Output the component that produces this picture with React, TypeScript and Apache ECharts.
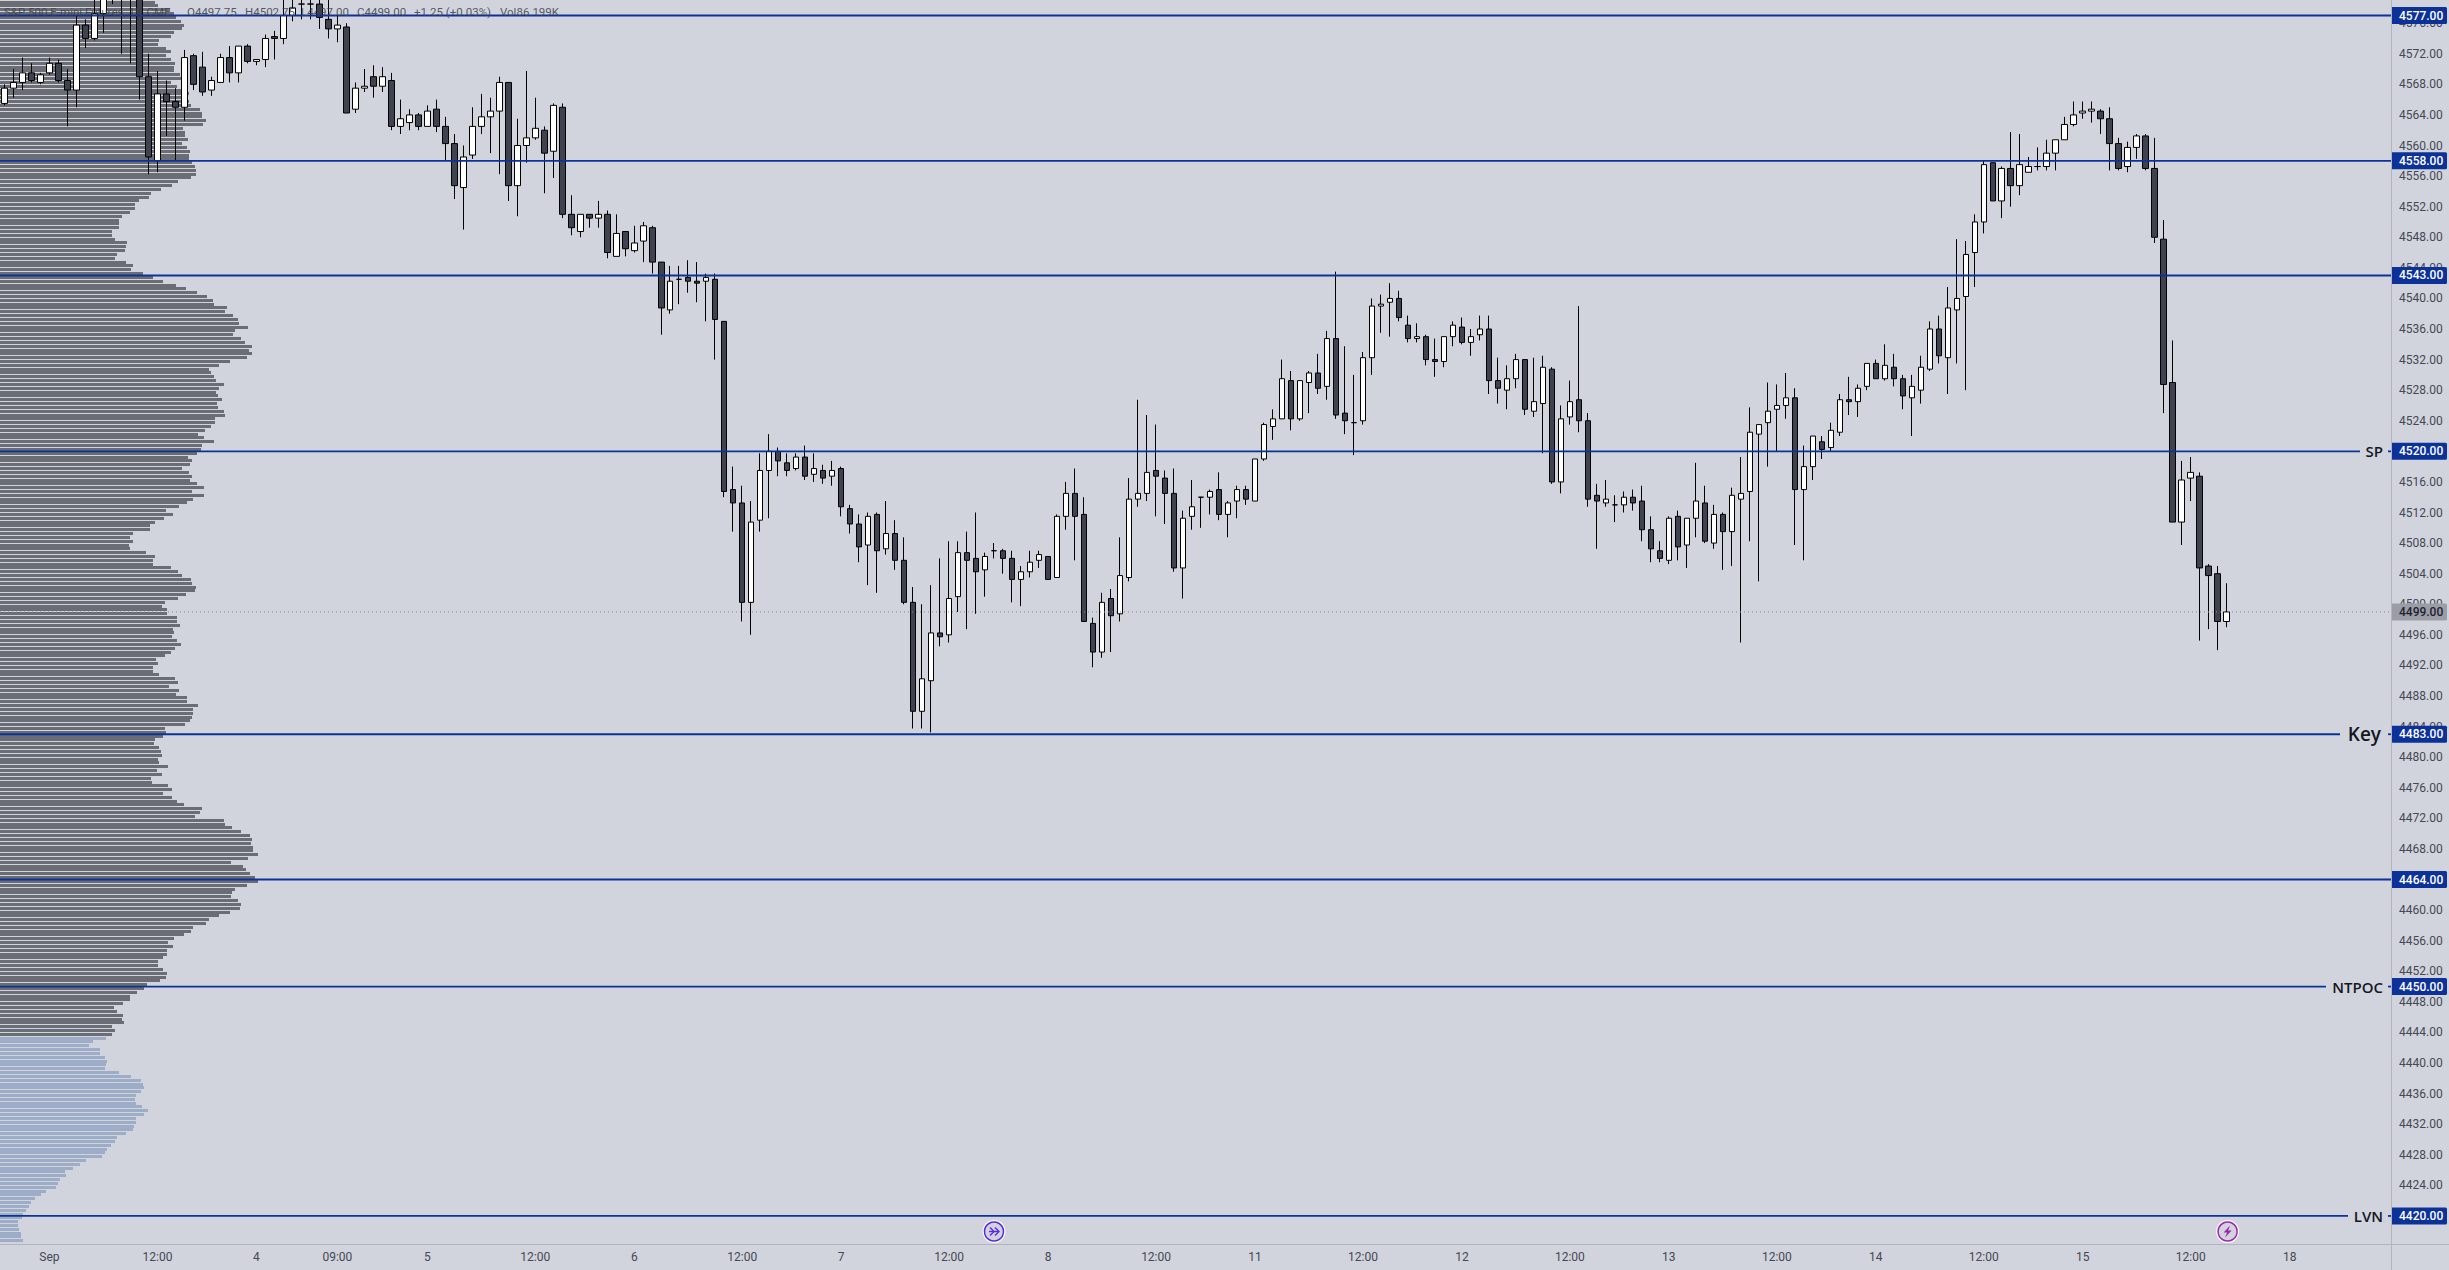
import React, { useEffect, useRef } from "react";
import * as echarts from "echarts";

// Candles as [open, close, low, high]
const candlesA: number[][] = [
  [4565.5,4567.5,4565.25,4568],[4567.5,4568.25,4566.25,4570],[4568.25,4569.5,4567.25,4571.5],[4569.5,4568.5,4568.25,4570.75],
  [4568.25,4569.25,4568,4569.5],[4569.5,4570.75,4569.25,4571.5],[4570.75,4568.5,4568.25,4571.25],[4568.5,4567.25,4562.5,4570],
  [4567.25,4575.75,4565,4577],[4575.75,4574,4572.75,4576.5],[4574,4577.25,4573.75,4580],[4577.25,4580,4574.75,4582],
  [4581,4583,4578.5,4585],[4584,4581,4572,4586],[4583,4580,4570.75,4585],[4582,4569,4566,4584],
  [4569,4558.5,4556.25,4572],[4558,4566.75,4556.5,4569.75],[4566.75,4565.75,4561.25,4568.5],[4565.75,4565,4558,4567.5],
  [4565,4571.5,4563.25,4572.5],[4571.75,4568,4567.25,4572],[4570.25,4567,4566.5,4572.25],[4567.25,4568.5,4566.5,4569],
  [4568.25,4571.5,4568.25,4572],[4571.5,4569.5,4568.25,4573],[4569.5,4573,4568.25,4573],[4573,4571,4570.75,4573.25],
  [4571,4571.25,4570.5,4571.25],[4571.25,4574,4570.25,4574.5],[4574.25,4574,4571.25,4575],[4574,4577,4573.25,4579.5],
  [4577,4578,4576.25,4580],[4578.5,4578.5,4576.5,4580],[4578.5,4578.5,4576.5,4580],[4578.5,4576.75,4575.25,4580],
  [4576.5,4575.25,4574,4580],[4575.25,4575.75,4573.5,4577],[4575.5,4564.25,4564.25,4576],[4564.75,4567.5,4564.25,4568.25],
  [4567.5,4567.75,4567,4570],[4569,4567.75,4566.25,4570.5],[4567.75,4569,4567,4570.25],[4568.5,4562.5,4562,4569.5],
  [4562.5,4563.5,4561.5,4566],[4563,4564,4562,4564.75],[4564,4562.5,4562,4564.25],[4562.5,4564.5,4562.5,4565.25],
  [4564.75,4562.5,4561.75,4566],[4562.5,4560.25,4558,4563.75],[4560.25,4554.75,4553,4561.5],[4554.5,4558.5,4549,4560],
  [4558.75,4562.5,4558.25,4565],[4562.5,4563.75,4561.5,4566.75],[4563.75,4564.5,4559,4566.25],[4564.5,4568.25,4556.25,4569],
  [4568.25,4554.75,4552.75,4568.25],[4554.75,4560,4550.75,4563.5],[4560,4561,4557.75,4569.75],[4561,4562.25,4560.75,4566.25],
  [4562,4559,4553.75,4562.5],[4559.25,4565.25,4555.75,4565.5],[4565,4551,4550.5,4565.5],[4551,4549.25,4548.25,4553.5],
  [4548.75,4551,4548,4551],[4551,4550.5,4549.25,4551],[4550.5,4551,4549.25,4552.75],[4551,4546,4545.25,4551.5],
];
const candlesB: number[][] = [
  [4545.5,4548.5,4545.5,4551],[4548.75,4546.5,4545.5,4548.75],[4546.25,4547.25,4546,4549.5],[4547.5,4549.5,4544.75,4550],
  [4549.25,4544.75,4543.25,4549.5],[4544.75,4538.75,4535.25,4544.75],[4538.5,4542.25,4538,4544.25],[4542.5,4542.5,4539.25,4544.25],
  [4542.75,4542.25,4540.75,4545],[4542.25,4542,4539.5,4544.75],[4542.25,4542.75,4537,4543.25],[4542.5,4537.25,4532,4543.25],
  [4537,4514.75,4514,4537],[4515,4513.25,4509.5,4518],[4513.25,4500.25,4497.75,4515.5],[4500.25,4510.75,4496,4513.5],
  [4511,4517.5,4509.5,4519.75],[4517.5,4520,4511.25,4522.25],[4520,4518.75,4516.75,4520.5],[4518.5,4517.5,4516.75,4519.75],
  [4517.75,4519.25,4517.5,4519.75],[4519.25,4516.75,4516.25,4520.75],[4517,4517.75,4516,4519.75],[4517.5,4516.5,4515.75,4518.25],
  [4516.75,4517.5,4515.5,4518.75],[4517.75,4512.75,4511.5,4518],[4512.5,4510.5,4509.25,4513],[4510.5,4507.5,4505.5,4511.75],
  [4507.75,4511.5,4502.5,4512],[4511.75,4507,4501.5,4512],[4507.25,4509.25,4506.5,4513.5],[4509.25,4505.75,4504.5,4511],
  [4505.75,4500.25,4500,4508.75],[4500.25,4486,4483.75,4502.25],[4486,4490.25,4483.75,4500],[4490,4496.25,4483.25,4502.5],
  [4496.25,4495.75,4494.5,4506],[4496,4500.75,4495,4508.25],[4501,4506.75,4499,4508.25],[4506.75,4505.75,4496.75,4509.5],
  [4506,4504.25,4498.75,4512],[4504.5,4506.25,4501,4506.75],[4507,4507,4506,4508],[4507,4506,4504,4507.25],
  [4506,4503.25,4500.25,4507],[4503.25,4504.25,4499.75,4505],[4504.25,4505.5,4503.5,4507],[4505.75,4506.5,4504.75,4507],
  [4506.25,4503.25,4503.25,4506.25],[4503.5,4511.5,4503.5,4511.75],[4511.5,4514.5,4509.75,4516],[4514.5,4511.5,4505.75,4517.75],
  [4511.75,4497.75,4497.75,4514],[4497.5,4493.75,4491.75,4498.25],[4493.75,4500.25,4493,4501.5],[4500.75,4498.5,4493.75,4502],
  [4498.75,4503.75,4497.75,4508.75],[4503.5,4513.75,4503,4516.5],[4513.75,4514.5,4512.75,4526.75],[4514.5,4517.25,4513.5,4524.75],
  [4517.5,4516.75,4511.5,4523.5],[4516.5,4514.5,4510.5,4517.5],[4514.5,4504.75,4504.25,4517.75],[4504.75,4511.25,4500.75,4512.25],
  [4511.5,4512.75,4509.75,4516.25],[4514,4514,4510,4514],[4514,4514.75,4511.75,4515],[4515,4511.75,4511,4517.25],
];
const candlesC: number[][] = [
  [4511.75,4513.25,4508.75,4513.5],[4513.5,4515,4511.25,4515.5],[4515,4513.75,4513,4515.5],[4513.5,4519,4513.5,4519],
  [4519,4523.5,4518.75,4523.75],[4523.25,4524.25,4521.5,4525.5],[4524.25,4529.5,4524.25,4532],[4529.25,4524.25,4522.75,4530.5],
  [4524.25,4529.25,4524,4529.25],[4529,4530.25,4525,4530.5],[4530.25,4528.25,4527.5,4532.75],[4528.5,4534.75,4526.75,4535.75],
  [4534.75,4524.75,4524.25,4543.5],[4525,4524,4522.25,4533.75],[4523.75,4523.75,4519.5,4530],[4524,4532.25,4523.5,4533],
  [4532.25,4539,4530,4540],[4539,4539.25,4535.5,4540.5],[4539.5,4540,4535,4542],[4540,4537.5,4537,4541],
  [4536.5,4534.75,4534.25,4537.75],[4534.75,4535,4534.25,4536.75],[4535,4532,4531.25,4535.25],[4532,4531.75,4529.75,4534.75],
  [4531.75,4535,4531,4535],[4535,4536.5,4533.75,4537],[4536.25,4534.25,4534,4537.5],[4534.25,4535,4532.5,4536],
  [4535.25,4536,4534.5,4537.75],[4536,4529.25,4527.5,4537.75],[4529.25,4528.25,4526.25,4532.25],[4528,4529.5,4525.5,4531.25],
  [4529.5,4532,4528.25,4532.75],[4532,4525.5,4524.75,4532],[4525.25,4526.5,4524.5,4532.25],[4526.25,4531,4519.75,4532.5],
  [4530.75,4516,4515.75,4531],[4516,4524.25,4514.5,4526],[4524.5,4526.5,4523.5,4529.25],[4526.75,4524,4522.5,4539],
  [4524,4513.75,4512.75,4525],[4514.25,4513.5,4507.25,4515.75],[4513.25,4513.75,4512.75,4516.25],[4513,4513,4510.75,4514.25],
  [4513,4514,4512,4514.75],[4514,4513.25,4512.25,4515],[4513.5,4509.75,4508.25,4515.5],[4509.75,4507.25,4505.5,4511.5],
  [4507,4506,4505.5,4508.25],[4505.75,4511.25,4505.25,4511.5],[4511.5,4507.5,4505.75,4512.25],[4507.75,4511.25,4504.75,4511.25],
  [4511.25,4513.5,4508.75,4518.5],[4513.25,4508.25,4508,4515.5],[4508,4511.75,4507.25,4513],[4511.75,4509.5,4504.5,4512],
  [4509.5,4514.25,4505,4515.25],[4513.75,4514.5,4495,4519.25],[4514.75,4522.5,4508.25,4525.75],[4522.25,4523.5,4503,4523.5],
  [4523.75,4525.25,4518,4529],[4525.5,4526,4520,4528.75],[4526,4527,4524.25,4530.25],[4527,4515,4507.75,4528.25],
  [4515,4518,4505.75,4520.75],[4518,4522,4516.25,4522],
];
const candlesD: number[][] = [
  [4521.25,4520.25,4519,4522],[4520.5,4522.75,4520,4523.75],[4522.5,4526.75,4522,4527.5],[4526.75,4526.5,4524.75,4529.75],
  [4526.5,4528.25,4524.5,4528.75],[4528.5,4531.5,4528,4531.5],[4531.5,4529.5,4529.5,4532],[4529.5,4531.25,4529.25,4534],
  [4531,4529.5,4528.5,4532.75],[4529.5,4527.25,4525.5,4530],[4527,4528.5,4522,4530],[4528,4531,4526.25,4532.5],
  [4530.75,4536,4530.5,4537],[4536,4532.5,4531.5,4537.75],[4532.25,4538.75,4527.5,4541.5],[4538.5,4540,4531.5,4547.75],
  [4540.25,4545.75,4528,4547.5],[4546,4550,4541.5,4551],[4550,4557.5,4548.5,4558],[4557.75,4552.75,4552.75,4557.75],
  [4552.75,4557,4550.5,4557.25],[4557,4554.75,4552,4561.75],[4554.75,4557.5,4553.5,4561.5],[4556.5,4557.25,4556.5,4558.5],
  [4557.25,4557.25,4556.75,4559.75],[4557.25,4559,4556.75,4560.75],[4559,4560.75,4556.75,4560.75],[4560.75,4562.75,4560.75,4563.75],
  [4562.75,4564,4562.5,4565.75],[4564.25,4564.5,4563.5,4565.75],[4564.5,4564.75,4563,4565.75],[4564.5,4563.5,4561.5,4564.75],
  [4563.5,4560.25,4556.75,4565],[4560.25,4557,4556.75,4561],[4557.25,4559.75,4556.5,4560.5],[4559.75,4561.25,4558.25,4561.5],
  [4561.25,4557,4556.75,4561.5],[4557,4548,4547.25,4561],[4547.75,4528.75,4525,4550.25],[4529,4510.75,4510.75,4534.5],
  [4510.75,4516.25,4507.75,4518.75],[4516.5,4517.25,4513.5,4519.25],[4516.75,4504.75,4495.25,4517.25],[4505,4503.75,4496.75,4505.25],
  [4504,4497.75,4494,4505],[4497.75,4499,4497,4502.75],
];

// Volume profile, row widths, one row per half point, top to bottom
const profileTopStart = 4578.75;
const profileTop = [155,158,170,174,176,181,184,182,174,171,159,158,166,171,166,171,175,174,174,180,186,171,177,183,189,183,189,191,200,202,202,206,203,183,185,185,188,182,187,190,189,189,192,195,196,196,191,178,172,161,151,149,139,135,135,130,122,119,119,119,112,112,115,127,126,125,117,115,126,133,131,143,153,163,176,186,197,207,213,214,227];
const profileMidStart = 4538.25;
const profileMid = [225,233,238,239,248,235,233,241,245,252,249,252,247,230,219,209,211,214,216,224,219,216,218,222,217,218,224,225,215,215,211,205,198,204,214,202,201,197,188,192,190,182,189,192,190,197,204,192,204,193,187,179,166,173,164,155,150,150,133,130,133,129,130,146,155,153,153,171,178,182,191,192,196,195,186,178,165,162,167,167,177,177,180,173,174,172,177,181,175,171,165,156,158,153,153,159,175,178,169,179,176,187,187,198,193];
const profileLowStart = 4485.75;
const profileLow = [193,192,190,185,165,166,163,155,154,159,161,162,158,159,168,157,162,151,152,168,172,163,172,177,184,202,200,195,224,225,232,241,250,252,251,253,253,258,248,231,243,246,250,255,258,247,235,232,231,238,241,240,230,219,209,206,193,191,184,174,168,173,167,167,163,158,158,163,167,166,160,147,144,137,130,130,123,114,117,123,122,124,112,115,112];
const profileBlueStart = 4443.25;
const profileBlue = [106,93,89,100,100,105,107,106,105,119,131,141,143,144,141,136,135,136,142,148,144,136,136,134,133,126,117,115,111,107,105,102,86,80,73,65,66,60,58,56,46,41,35,31,29,26,23,22,18,18,19,21,21,23];

// Horizontal levels and their side labels
const levelPrices = [4577, 4558, 4543, 4520, 4483, 4464, 4450, 4420];
const levelLabels = ["", "", "", "SP", "Key", "", "NTPOC", "LVN"];
const lastPrice = [4499];

// Axes
const priceTicks = [4420,4424,4428,4432,4436,4440,4444,4448,4452,4456,4460,4464,4468,4472,4476,4480,4484,4488,4492,4496,4500,4504,4508,4512,4516,4520,4524,4528,4532,4536,4540,4544,4548,4552,4556,4560,4564,4568,4572,4576];
const timeTickIndex = [5,17,28,37,47,59,70,82,93,105,116,128,139,151,162,174,185,197,208,220,231,243,254];
const timeTickLabels = ["Sep","12:00","4","09:00","5","12:00","6","12:00","7","12:00","8","12:00","11","12:00","12","12:00","13","12:00","14","12:00","15","12:00","18"];

// Header legend
const legendTexts = ["S&P 500 E-mini Futures, 1h, CME","O4497.75","H4502.75","L4497.00","C4499.00","+1.25 (+0.03%)","Vol86.199K"];
const legendOffsets = [4,187,245,301,357,414,500];

const PLOT_W = 2391;
const PLOT_H = 1244;
const BAND = 9;
const SLOTS = 266;
const PRICE_MAX = 4579.03;
const PRICE_MIN = 4416.33;
const BG = "#d1d4dc";
const LEVEL = "#0c3299";
const LEVEL_W = 1.8;
const AXIS_LINE = "#b2b5be";
const AXIS_TEXT = "#454854";
const FONT = "Roboto, sans-serif";
const LABEL_STYLE: Record<string, { lineEnd: number; size: number; right: number }> = {
  SP: { lineEnd: 2360, size: 15, right: 2383 },
  Key: { lineEnd: 2340, size: 19, right: 2381 },
  NTPOC: { lineEnd: 2326, size: 15, right: 2383 },
  LVN: { lineEnd: 2348, size: 15, right: 2383 },
};

function profileSeries(rows: number[][], color: string) {
  return {
    type: "custom",
    xAxisIndex: 1,
    yAxisIndex: 1,
    z: 1,
    silent: true,
    data: rows,
    encode: { x: 0, y: 1 },
    renderItem: (_p: any, api: any) => {
      const end = api.coord([api.value(0), api.value(1)]);
      const start = api.coord([0, api.value(1)]);
      return {
        type: "rect",
        shape: { x: start[0], y: Math.round(end[1] - 1.5), width: end[0] - start[0], height: 3 },
        style: { fill: color },
      };
    },
  };
}

function bins(start: number, widths: number[]) {
  return widths.map((w, i) => [w, start - i * 0.5]);
}

function badge(y: number, text: string, fill: string, color: string) {
  return [
    { type: "rect", shape: { x: PLOT_W, y: y - 8.5, width: 56, height: 17, r: 1.5 }, style: { fill } },
    {
      type: "text",
      style: {
        text, x: PLOT_W + 8, y, fill: color, fontFamily: FONT, fontSize: 12, fontWeight: 500,
        align: "left", verticalAlign: "middle",
      },
    },
  ];
}

export default function App() {
  const ref = useRef<HTMLDivElement>(null);
  useEffect(() => {
    document.body.style.margin = "0";
    const chart = echarts.init(ref.current!, null, { renderer: "svg" });
    const candles = [...candlesA, ...candlesB, ...candlesC, ...candlesD];
    const categories = Array.from({ length: SLOTS }, (_, i) => {
      const k = timeTickIndex.indexOf(i);
      return k >= 0 ? timeTickLabels[k] : "";
    });
    chart.setOption({
      animation: false,
      backgroundColor: BG,
      grid: [
        { left: -0.9, top: 0, width: BAND * SLOTS, height: PLOT_H },
        { left: 0, top: 0, width: PLOT_W, height: PLOT_H },
      ],
      xAxis: [
        {
          type: "category", gridIndex: 0, data: categories,
          axisLine: { show: false }, axisTick: { show: false }, splitLine: { show: false },
          axisLabel: { interval: 0, margin: 7, fontFamily: FONT, fontSize: 12, color: AXIS_TEXT },
        },
        { type: "value", gridIndex: 1, min: 0, max: PLOT_W, show: false },
      ],
      yAxis: [
        { type: "value", gridIndex: 0, min: PRICE_MIN, max: PRICE_MAX, show: false },
        {
          type: "value", gridIndex: 1, min: PRICE_MIN, max: PRICE_MAX, position: "right", z: 0,
          axisLine: { show: false }, axisTick: { show: false }, splitLine: { show: false },
          axisLabel: {
            customValues: priceTicks, margin: 8, fontFamily: FONT, fontSize: 12, color: AXIS_TEXT,
            formatter: (v: number) => v.toFixed(2),
          },
        },
      ],
      series: [
        profileSeries(bins(profileTopStart, profileTop), "#6b6d74"),
        profileSeries(bins(profileMidStart, profileMid), "#6b6d74"),
        profileSeries(bins(profileLowStart, profileLow), "#6b6d74"),
        profileSeries(bins(profileBlueStart, profileBlue), "#9dadc7"),
        {
          type: "candlestick", xAxisIndex: 0, yAxisIndex: 0, z: 2, clip: true, silent: true,
          barWidth: 6,
          data: candles,
          itemStyle: { color: "#ffffff", color0: "#3f424f", borderColor: "#000000", borderColor0: "#000000", borderColorDoji: "#000000", borderWidth: 1 },
        },
        {
          type: "custom", xAxisIndex: 1, yAxisIndex: 1, z: 3, silent: true,
          data: lastPrice.map((p) => [0, p]), encode: { x: 0, y: 1 },
          renderItem: (_p: any, api: any) => {
            const a = api.coord([0, api.value(1)]);
            const b = api.coord([PLOT_W, api.value(1)]);
            return {
              type: "group",
              children: [
                { type: "line", shape: { x1: a[0], y1: a[1], x2: b[0], y2: b[1] }, style: { stroke: "#8b8e97", lineWidth: 1, lineDash: [1, 3] } },
                ...badge(a[1], api.value(1).toFixed(2), "#9a9da6", "#1f2230"),
              ],
            };
          },
        },
        {
          type: "custom", xAxisIndex: 1, yAxisIndex: 1, z: 4, silent: true,
          data: levelPrices.map((p) => [0, p]), encode: { x: 0, y: 1 },
          renderItem: (params: any, api: any) => {
            const a = api.coord([0, api.value(1)]);
            const b = api.coord([PLOT_W, api.value(1)]);
            const label = levelLabels[params.dataIndex];
            const st = LABEL_STYLE[label];
            const children: any[] = [];
            const lineStyle = { stroke: LEVEL, lineWidth: LEVEL_W };
            if (st) {
              children.push({ type: "line", shape: { x1: a[0], y1: a[1], x2: st.lineEnd, y2: b[1] }, style: lineStyle });
              children.push({ type: "line", shape: { x1: 2388, y1: a[1], x2: b[0], y2: b[1] }, style: lineStyle });
              children.push({
                type: "text",
                style: {
                  text: label, x: st.right, y: a[1], fill: "#131722", fontFamily: "'Open Sans', sans-serif",
                  fontSize: st.size, fontWeight: 600, align: "right", verticalAlign: "middle",
                },
              });
            } else {
              children.push({ type: "line", shape: { x1: a[0], y1: a[1], x2: b[0], y2: b[1] }, style: lineStyle });
            }
            children.push(...badge(a[1], api.value(1).toFixed(2), LEVEL, "#ffffff"));
            return { type: "group", children };
          },
        },
      ],
      graphic: [
        { type: "line", z: 5, silent: true, shape: { x1: 0, y1: PLOT_H + 0.5, x2: 2449, y2: PLOT_H + 0.5 }, style: { stroke: AXIS_LINE, lineWidth: 1 } },
        { type: "line", z: 5, silent: true, shape: { x1: PLOT_W + 0.5, y1: 0, x2: PLOT_W + 0.5, y2: 1270 }, style: { stroke: AXIS_LINE, lineWidth: 1 } },
        ...legendTexts.map((t, i) => ({
          type: "text", z: 6, silent: true, x: legendOffsets[i], y: 11.5,
          style: { text: t, fill: "rgba(60,63,75,0.85)", fontFamily: FONT, fontSize: 11.5, align: "left", verticalAlign: "middle" },
        })),
        {
          type: "group", x: 994, y: 1231.5, z: 6, silent: true,
          children: [
            { type: "circle", z: 6, shape: { cx: 0, cy: 0, r: 11.5 }, style: { fill: "#ffffff" } },
            { type: "circle", z: 6, shape: { cx: 0, cy: 0, r: 9.5 }, style: { fill: BG, stroke: "#5b2be0", lineWidth: 1.5 } },
            { type: "polyline", z: 7, shape: { points: [[-5, 0], [5, 0]] }, style: { stroke: "#5b2be0", lineWidth: 1.4, fill: "none" } },
            { type: "polyline", z: 7, shape: { points: [[1, -4], [5, 0], [1, 4]] }, style: { stroke: "#5b2be0", lineWidth: 1.4, fill: "none" } },
            { type: "polyline", z: 7, shape: { points: [[-4, -4], [0, 0], [-4, 4]] }, style: { stroke: "#5b2be0", lineWidth: 1.4, fill: "none" } },
          ],
        },
        {
          type: "group", x: 2227.6, y: 1231.5, z: 6, silent: true,
          children: [
            { type: "circle", z: 6, shape: { cx: 0, cy: 0, r: 11.5 }, style: { fill: "#ffffff" } },
            { type: "circle", z: 6, shape: { cx: 0, cy: 0, r: 9.5 }, style: { fill: BG, stroke: "#9c27b0", lineWidth: 1.5 } },
            { type: "polygon", z: 7, shape: { points: [[2.5, -6], [-4, 1], [-0.5, 1], [-2.5, 6], [4, -1], [0.5, -1]] }, style: { fill: "#9c27b0" } },
          ],
        },
      ],
    });
    return () => chart.dispose();
  }, []);
  return <div ref={ref} style={{ width: 2449, height: 1270 }} />;
}
